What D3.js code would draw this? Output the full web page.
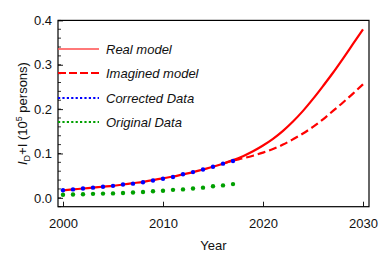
<!DOCTYPE html>
<html>
<head>
<meta charset="utf-8">
<script src="https://cdn.jsdelivr.net/npm/d3@7"></script>
<style>
  body { margin: 0; background: #fff; }
  svg { font-family: "Liberation Sans", Arial, sans-serif; }
</style>
</head>
<body>
<svg id="chart"></svg>
<script>
// data
var years = d3.range(2000, 2031);
var realModel = [0.017, 0.019, 0.021, 0.023, 0.025, 0.027, 0.030, 0.033, 0.036, 0.040,
  0.044, 0.048, 0.053, 0.058, 0.064, 0.070, 0.077, 0.085, 0.094, 0.105,
  0.118, 0.133, 0.151, 0.172, 0.196, 0.223, 0.252, 0.282, 0.314, 0.347, 0.380];
var imaginedYears = d3.range(2016, 2031);
var imaginedModel = [0.077, 0.084, 0.089, 0.095, 0.102, 0.110, 0.120, 0.132, 0.145,
  0.160, 0.177, 0.196, 0.215, 0.235, 0.256];
var dataYears = d3.range(2000, 2018);
var corrected = [0.017, 0.019, 0.021, 0.023, 0.025, 0.027, 0.030, 0.032, 0.035, 0.039,
  0.043, 0.047, 0.053, 0.058, 0.064, 0.070, 0.077, 0.083];
var original = [0.007, 0.0075, 0.008, 0.009, 0.0095, 0.010, 0.011, 0.012, 0.013, 0.015,
  0.016, 0.018, 0.019, 0.021, 0.023, 0.026, 0.028, 0.031];
var xTicks = [2000, 2010, 2020, 2030];
var yTicks = [0.0, 0.1, 0.2, 0.3, 0.4];
var yMinor = d3.range(-0.02, 0.401, 0.02);
var legendNames = ["Real model", "Imagined model", "Corrected Data", "Original Data"];

var W = 381, H = 260;
var margin = { top: 20.4, right: 12, bottom: 53.3, left: 58 };

var svg = d3.select("#chart").attr("width", W).attr("height", H);

var x = d3.scaleLinear().domain([1999.5, 2030.6]).range([margin.left, W - margin.right]);
var y = d3.scaleLinear().domain([-0.02, 0.4]).range([H - margin.bottom, margin.top]);

//frame
svg.append("rect")
  .attr("x", margin.left).attr("y", margin.top)
  .attr("width", W - margin.right - margin.left)
  .attr("height", H - margin.bottom - margin.top)
  .attr("fill", "none").attr("stroke", "#000").attr("stroke-width", 1.2);

// minor ticks on y
svg.append("g").selectAll("line").data(yMinor).enter().append("line")
  .attr("x1", margin.left).attr("x2", margin.left + 3)
  .attr("y1", function (d) { return y(d); }).attr("y2", function (d) { return y(d); })
  .attr("stroke", "#000").attr("stroke-width", 0.8);

var xaxis = svg.append("g")
  .attr("transform", "translate(0," + (H - margin.bottom) + ")")
  .call(d3.axisBottom(x).tickValues(xTicks).tickFormat(d3.format("d")).tickSize(-5).tickPadding(12));
var yaxis = svg.append("g")
  .attr("transform", "translate(" + margin.left + ",0)")
  .call(d3.axisLeft(y).tickValues(yTicks).tickFormat(d3.format(".1f")).tickSize(-5).tickPadding(6));
[xaxis, yaxis].forEach(function (a) {
  a.select(".domain").remove();
  a.selectAll("text").attr("font-size", 13).attr("fill", "#111")
    .attr("font-family", "'Liberation Sans', Arial, sans-serif");
  a.selectAll("line").attr("stroke", "#000").attr("stroke-width", 0.9);
});

var line = d3.line()
  .x(function (d) { return x(d[0]); })
  .y(function (d) { return y(d[1]); })
  .curve(d3.curveMonotoneX);

svg.append("path")
  .datum(d3.zip(years, realModel))
  .attr("d", line).attr("fill", "none").attr("stroke", "#ff0000").attr("stroke-width", 2.2);

svg.append("path")
  .datum(d3.zip(imaginedYears, imaginedModel))
  .attr("d", line).attr("fill", "none").attr("stroke", "#ff0000").attr("stroke-width", 2.2)
  .attr("stroke-dasharray", "8,4");

function drawDots(vals, col) {
  svg.append("g").selectAll("circle").data(d3.zip(dataYears, vals)).enter().append("circle")
    .attr("cx", function (d) { return x(d[0]); })
    .attr("cy", function (d) { return y(d[1]); })
    .attr("r", 2.2).attr("fill", col);
}
drawDots(original, "#00a000");
drawDots(corrected, "#0000ff");

// legend
var legendY = [49, 73, 98, 122];
var legendStyle = [
  { col: "#ff4d4d", dash: null, w: 1.6 },
  { col: "#ff0000", dash: "8,3", w: 2 },
  { col: "#0000ff", dash: "2.2,2.2", w: 2.2 },
  { col: "#00a000", dash: "2.2,2.2", w: 2.2 }
];
legendNames.forEach(function (name, i) {
  var l = svg.append("line")
    .attr("x1", margin.left).attr("x2", 99)
    .attr("y1", legendY[i]).attr("y2", legendY[i])
    .attr("stroke", legendStyle[i].col).attr("stroke-width", legendStyle[i].w);
  if (legendStyle[i].dash) l.attr("stroke-dasharray", legendStyle[i].dash);
  svg.append("text")
    .attr("x", 106).attr("y", legendY[i] + 4.5)
    .attr("font-size", 13).attr("font-style", "italic").attr("fill", "#111")
    .text(name);
});

// axis titles
svg.append("text")
  .attr("x", (margin.left + W - margin.right) / 2).attr("y", 250)
  .attr("text-anchor", "middle").attr("font-size", 13).attr("fill", "#111")
  .text("Year");

var yl = svg.append("text")
  .attr("transform", "translate(27," + ((margin.top + H - margin.bottom) / 2) + ") rotate(-90)")
  .attr("text-anchor", "middle").attr("font-size", 13).attr("fill", "#111");
yl.append("tspan").attr("font-style", "italic").text("I");
yl.append("tspan").attr("font-size", 9).attr("dy", 3).text("D");
yl.append("tspan").attr("dy", -3).text("+I (10");
yl.append("tspan").attr("font-size", 9).attr("dy", -5).text("5");
yl.append("tspan").attr("dy", 5).text(" persons)");
</script>
</body>
</html>
